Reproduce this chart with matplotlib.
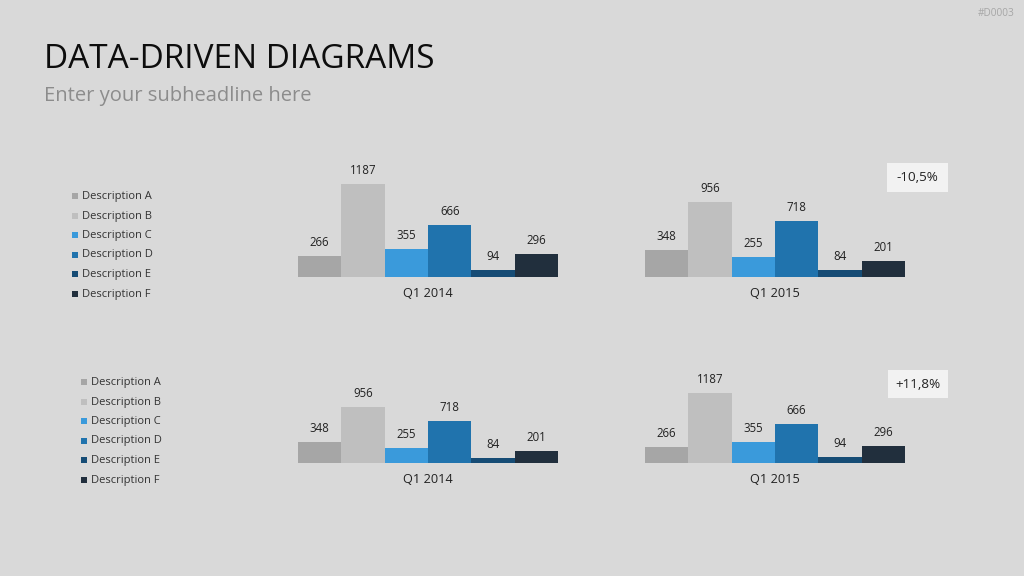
import matplotlib
matplotlib.use("Agg")
import matplotlib.pyplot as plt
from matplotlib.patches import Rectangle

plt.rcParams['font.family'] = ['Open Sans', 'DejaVu Sans']

categories = ["Description A", "Description B", "Description C",
              "Description D", "Description E", "Description F"]
colors = ["#A6A6A6", "#BFBFBF", "#3A9ADB", "#2073AD", "#164C75", "#212F3D"]

top_2014 = [266, 1187, 355, 666, 94, 296]
top_2015 = [348, 956, 255, 718, 84, 201]
bottom_2014 = [348, 956, 255, 718, 84, 201]
bottom_2015 = [266, 1187, 355, 666, 94, 296]
group_labels = ["Q1 2014", "Q1 2015"]
changes = ["-10,5%", "+11,8%"]

W, H = 1024, 576
fig = plt.figure(figsize=(W / 100, H / 100), dpi=100)
fig.patch.set_facecolor("#D9D9D9")

def px_rect(x0, y0, x1, y1):
    return [x0 / W, 1 - y1 / H, (x1 - x0) / W, (y1 - y0) / H]

def fx(x):
    return x / W

def fy(y):
    return 1 - y / H

fig.text(fx(44), fy(60), "DATA-DRIVEN DIAGRAMS", fontsize=24, color="#0D0D0D",
         va="center", ha="left")
fig.text(fx(44), fy(95.5), "Enter your subheadline here", fontsize=14.5, color="#8C8C8C",
         va="center", ha="left")
fig.text(fx(1015), fy(13), "#D0003", fontsize=7.2, color="#A6A6A6", va="center", ha="right")

rows = [
    dict(baseline=277, top=150, scale=93 / 1187, data=(top_2014, top_2015),
         leg_x=75, leg_y0=196, change=changes[0], box=(887, 163, 948, 192)),
    dict(baseline=463, top=340, scale=70 / 1187, data=(bottom_2014, bottom_2015),
         leg_x=84, leg_y0=382, change=changes[1], box=(888, 370, 948, 398)),
]

for r in rows:
    ax = fig.add_axes(px_rect(298, r["top"], 905, r["baseline"]))
    ax.set_facecolor("none")
    ymax = (r["baseline"] - r["top"]) / r["scale"]
    ax.set_xlim(-0.5, 13.5)
    ax.set_ylim(0, ymax)
    ax.axis("off")
    px_per_unit = r["scale"]
    for g, vals in enumerate(r["data"]):
        off = g * 8
        xs = [off + i for i in range(len(vals))]
        ax.bar(xs, vals, width=1.0, color=colors, edgecolor="none")
        for x, v in zip(xs, vals):
            ax.text(x, v + 7 / px_per_unit, str(v), ha="center", va="bottom",
                    fontsize=8.3, color="#222222")
        ax.text(off + 2.5, -10 / px_per_unit, group_labels[g], ha="center", va="top",
                fontsize=9.2, color="#222222", clip_on=False)
    # legend
    for i, (c, lab) in enumerate(zip(colors, categories)):
        y = r["leg_y0"] + i * 19.5
        fig.patches.append(Rectangle((fx(r["leg_x"] - 3), fy(y + 3)), 6 / W, 6 / H,
                                     transform=fig.transFigure, facecolor=c,
                                     edgecolor="none"))
        fig.text(fx(r["leg_x"] + 7), fy(y + 0.5), lab, fontsize=8, color="#333333",
                 va="center", ha="left")
    bx0, by0, bx1, by1 = r["box"]
    fig.patches.append(Rectangle((fx(bx0), fy(by1)), (bx1 - bx0) / W, (by1 - by0) / H,
                                 transform=fig.transFigure, facecolor="#F2F2F2",
                                 edgecolor="none"))
    fig.text(fx((bx0 + bx1) / 2), fy((by0 + by1) / 2), r["change"], fontsize=9.7,
             color="#222222", ha="center", va="center")

fig.savefig("out.png", dpi=100, facecolor=fig.get_facecolor())
